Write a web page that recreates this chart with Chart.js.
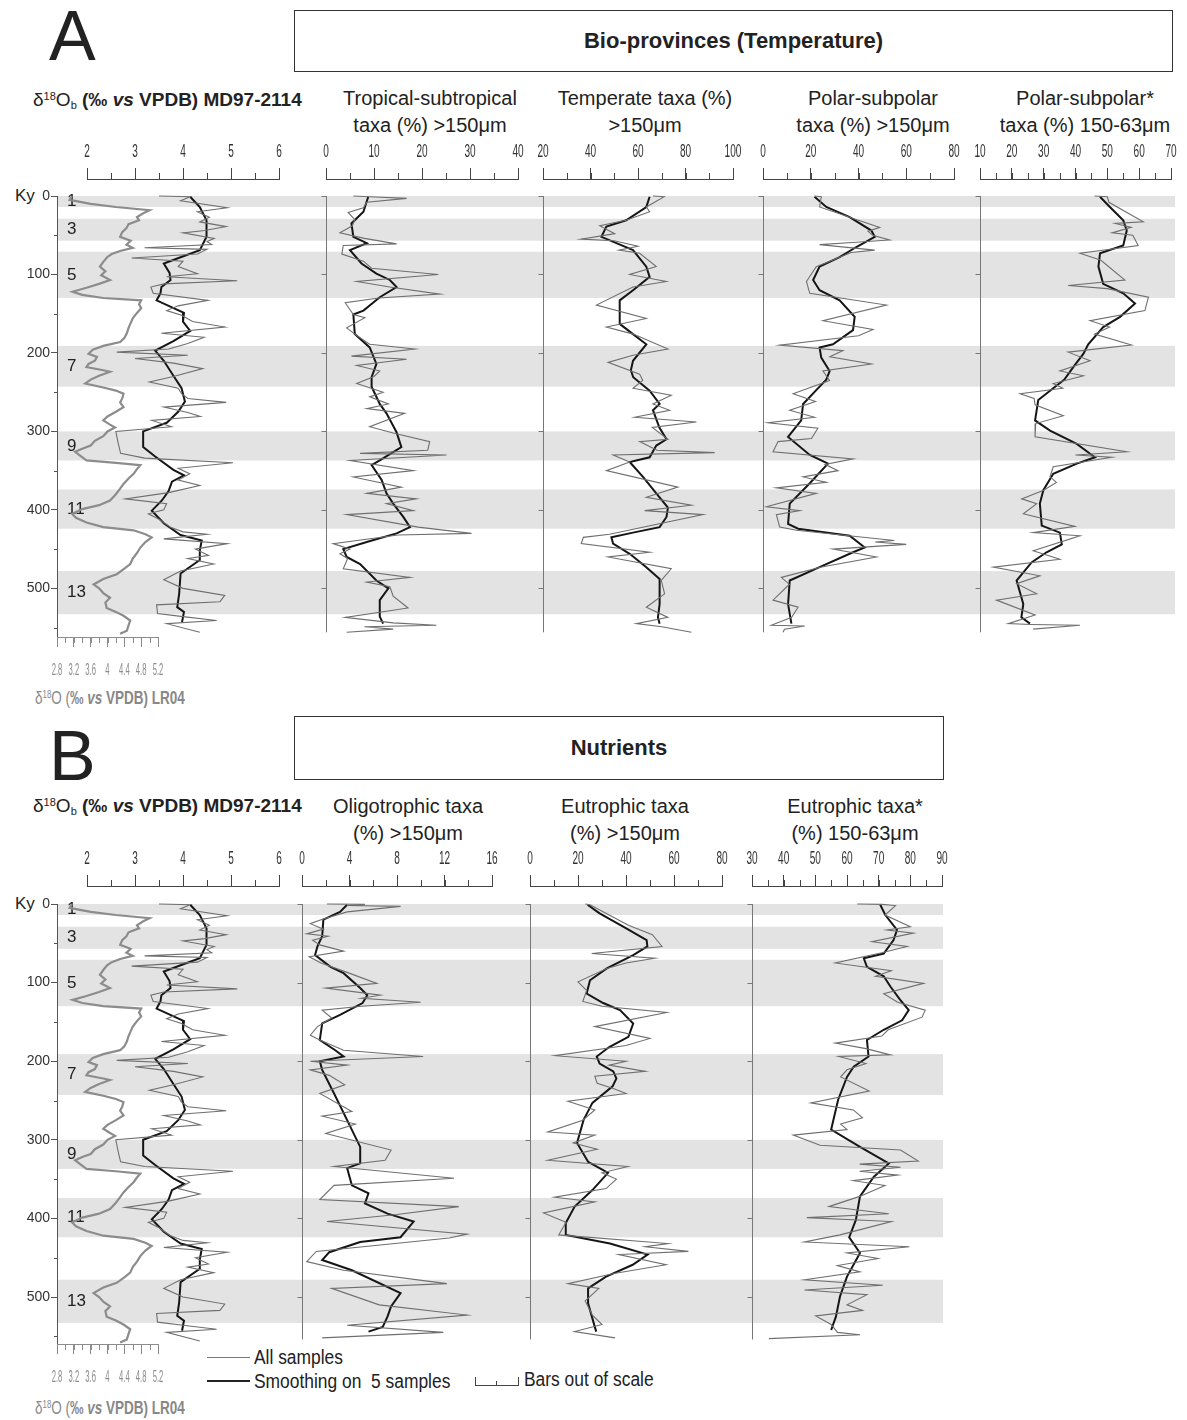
<!DOCTYPE html>
<html>
<head>
<meta charset="utf-8">
<script src="https://cdn.jsdelivr.net/npm/chart.js@4.4.1/dist/chart.umd.min.js"></script>
<style>
body { margin: 0; background: #fff; }
#page { position: relative; width: 1187px; height: 1420px; overflow: hidden; font-family: 'Liberation Sans', Arial, sans-serif; color: #222; }
#page canvas { position: absolute; }
.t { position: absolute; white-space: nowrap; line-height: 24px; }
.hd { position: absolute; white-space: nowrap; font-size: 20px; line-height: 24px; transform: translateX(-50%); }
.cond { transform-origin: 0 50%; }
.box { position: absolute; border: 1.5px solid #333; display: flex; align-items: center; justify-content: center; font-weight: bold; font-size: 22px; }
.big { position: absolute; font-size: 70px; line-height: 70px; }
.sup { font-size: 0.58em; position: relative; top: -0.55em; }
.sub { font-size: 0.58em; position: relative; top: 0.25em; }
.ln { position: absolute; height: 0; }
</style>
</head>
<body>
<div id="page">
  <div class="big" style="left:49px;top:1px;">A</div>
  <div class="box" style="left:294px;top:10px;width:877px;height:60px;">Bio-provinces (Temperature)</div>
  <div class="t" style="left:33px;top:88px;font-size:19px;">δ<span class="sup">18</span>O<span class="sub">b</span> <b>(‰ <i>vs</i> VPDB) MD97-2114</b></div>
  <div class="hd" style="left:430px;top:86px;">Tropical-subtropical</div>
  <div class="hd" style="left:430px;top:113px;">taxa (%) &gt;150μm</div>
  <div class="hd" style="left:645px;top:86px;">Temperate taxa (%)</div>
  <div class="hd" style="left:645px;top:113px;">&gt;150μm</div>
  <div class="hd" style="left:873px;top:86px;">Polar-subpolar</div>
  <div class="hd" style="left:873px;top:113px;">taxa (%) &gt;150μm</div>
  <div class="hd" style="left:1085px;top:86px;">Polar-subpolar*</div>
  <div class="hd" style="left:1085px;top:113px;">taxa (%) 150-63μm</div>
  <div class="t" style="left:15px;top:184px;font-size:17px;">Ky</div>
  <div class="t cond" style="left:35px;top:686px;font-size:18px;color:#888;transform:scaleX(0.75);">δ<span class="sup">18</span>O (<b>‰ <i>vs</i> VPDB) LR04</b></div>

  <div class="big" style="left:49px;top:721px;">B</div>
  <div class="box" style="left:294px;top:716px;width:648px;height:62px;">Nutrients</div>
  <div class="t" style="left:33px;top:794px;font-size:19px;">δ<span class="sup">18</span>O<span class="sub">b</span> <b>(‰ <i>vs</i> VPDB) MD97-2114</b></div>
  <div class="hd" style="left:408px;top:794px;">Oligotrophic taxa</div>
  <div class="hd" style="left:408px;top:821px;">(%) &gt;150μm</div>
  <div class="hd" style="left:625px;top:794px;">Eutrophic taxa</div>
  <div class="hd" style="left:625px;top:821px;">(%) &gt;150μm</div>
  <div class="hd" style="left:855px;top:794px;">Eutrophic taxa*</div>
  <div class="hd" style="left:855px;top:821px;">(%) 150-63μm</div>
  <div class="t" style="left:15px;top:892px;font-size:17px;">Ky</div>
  <div class="t cond" style="left:35px;top:1396px;font-size:18px;color:#888;transform:scaleX(0.75);">δ<span class="sup">18</span>O (<b>‰ <i>vs</i> VPDB) LR04</b></div>

  <div class="ln" style="left:207px;top:1357px;width:43px;border-top:1px solid #777;"></div>
  <div class="t cond" style="left:254px;top:1345px;font-size:20px;transform:scaleX(0.87);">All samples</div>
  <div class="ln" style="left:207px;top:1380px;width:43px;border-top:2px solid #222;"></div>
  <div class="t cond" style="left:254px;top:1369px;font-size:20px;transform:scaleX(0.87);">Smoothing on &nbsp;5 samples</div>
  <div style="position:absolute;left:475px;top:1377px;width:42px;height:8px;border:1.5px solid #444;border-top:none;"></div>
  <div style="position:absolute;left:496px;top:1381px;width:0;height:5px;border-left:1.5px solid #444;"></div>
  <div class="t cond" style="left:524px;top:1367px;font-size:20px;transform:scaleX(0.87);">Bars out of scale</div>
</div>

<script>
// Marine isotope stages (odd = warm), ky
const misBands = [[0, 14], [29, 57], [71, 130], [191, 243], [300, 337], [374, 424], [478, 533]];
const misLabels = ['1', '3', '5', '7', '9', '11', '13'];
const kyTicks = [0, 100, 200, 300, 400, 500];

// [age ky, value]
const md97Raw = [[0,3.5],[1,4.15],[6,3.95],[15,4.92],[20,4.3],[27,4.55],[33,4.35],[39,4.9],[44,4.45],[47,4.0],
  [54,4.65],[58,4.5],[62,4.6],[66,3.2],[68,4.5],[74,4.3],[79,2.93],[83,4.0],[90,3.9],[99,4.3],
  [103,3.66],[108,5.13],[112,3.6],[116,3.33],[124,3.38],[133,4.52],[140,3.9],[146,3.66],[152,3.97],[160,4.2],
  [167,4.87],[175,3.55],[180,4.44],[188,4.1],[195,3.7],[199,2.62],[203,4.1],[207,3.0],[213,3.8],[220,4.41],
  [230,3.8],[237,3.3],[245,3.9],[252,3.97],[258,4.1],[263,4.9],[269,3.6],[276,4.1],[281,4.36],[286,3.35],
  [294,3.76],[300,2.6],[315,2.65],[328,2.7],[334,3.2],[340,5.04],[347,3.9],[354,4.14],[362,3.9],[369,4.35],
  [378,3.7],[386,2.8],[392,3.66],[400,3.6],[405,3.28],[412,3.5],[422,3.74],[428,4.0],[431,4.5],[437,3.6],
  [443,4.92],[450,4.26],[458,4.53],[462,4.1],[469,4.64],[478,3.95],[489,3.6],[500,4.0],[509,4.87],[517,4.77],
  [521,3.45],[532,3.47],[536,4.0],[541,4.7],[545,3.66],[556,4.35]];
const md97Smooth = [[1,4.15],[14,4.35],[31,4.49],[52,4.49],[69,4.35],[78,3.95],[86,3.6],[98,3.72],[107,3.74],[116,3.55],
  [124,3.53],[133,3.45],[149,4.02],[160,4.0],[172,4.15],[185,3.8],[197,3.42],[210,3.6],[229,3.8],[245,3.97],
  [262,4.04],[275,3.9],[289,3.66],[300,3.17],[320,3.17],[332,3.42],[349,3.8],[356,4.02],[364,3.77],[376,3.7],
  [388,3.56],[401,3.35],[417,3.6],[432,3.95],[439,4.39],[452,4.35],[464,4.35],[481,3.95],[507,3.92],[524,3.88],
  [530,4.02],[543,3.98]];
const lr04 = [[0,3.15],[5,3.1],[10,3.6],[14,4.2],[18,5.0],[22,4.85],[27,4.7],[31,4.75],[36,4.5],[41,4.45],
  [46,4.35],[52,4.3],[57,4.55],[62,4.45],[66,4.6],[70,4.3],[74,4.1],[78,3.99],[84,3.9],[90,3.82],
  [96,3.95],[101,3.85],[107,4.06],[112,3.8],[117,3.5],[122,3.17],[126,3.4],[130,3.9],[133,4.8],[138,4.75],
  [143,4.8],[149,4.7],[156,4.6],[162,4.55],[168,4.5],[175,4.46],[181,4.4],[186,4.3],[191,3.9],[196,3.65],
  [201,3.55],[205,3.75],[210,3.7],[214,3.55],[218,3.5],[222,3.9],[224,4.06],[229,3.8],[234,3.6],[239,3.47],
  [244,3.9],[248,4.2],[252,4.38],[258,4.35],[263,4.3],[269,4.38],[275,4.2],[281,4.0],[286,3.9],[291,4.05],
  [295,4.18],[300,4.0],[306,3.9],[312,3.7],[318,3.6],[322,3.4],[326,3.23],[331,3.35],[337,3.5],[340,4.2],
  [343,4.78],[348,4.7],[354,4.62],[360,4.5],[367,4.38],[373,4.3],[380,4.2],[388,4.06],[394,3.8],[399,3.4],
  [405,3.16],[410,3.25],[416,3.5],[422,3.9],[426,4.62],[431,4.9],[435,5.05],[441,4.9],[448,4.78],[455,4.7],
  [462,4.6],[469,4.54],[475,4.4],[482,4.22],[488,3.9],[495,3.67],[500,3.8],[506,3.9],[512,4.06],[518,3.95],
  [525,3.98],[530,4.2],[535,4.38],[541,4.54],[547,4.5],[554,4.46],[558,4.3]];

const tropRaw = [[0,5.7],[1,9.1],[3,16.8],[8,8.5],[15,7.8],[21,4.6],[30,6.0],[38,5.5],[47,2.9],[54,8.0],
  [61,14.7],[63,3.6],[74,3.3],[83,7.8],[92,9.5],[100,23.4],[109,6.4],[116,13.3],[125,23.7],[130,11],
  [136,4.0],[151,5.7],[155,8.1],[168,4.3],[176,6],[189,9.1],[195,18.5],[204,5.3],[208,16.8],[216,6.4],
  [223,11.2],[230,10],[239,6.4],[250,11.9],[256,9.1],[265,13.0],[271,8.5],[277,16.4],[294,9.1],[302,14],
  [313,21.6],[324,21.2],[328,7.1],[330,25.1],[337,5.0],[350,18.2],[358,5.7],[371,15.7],[379,8.5],[386,18.8],
  [392,12.6],[401,18.2],[406,4.3],[422,19.2],[430,30.3],[432,15],[443,1.5],[450,5.0],[456,2.9],[462,4.5],
  [475,3.6],[486,17.5],[492,8.5],[498,13.3],[510,14],[525,17.1],[537,4.0],[544,14.0],[547,23],[549,8],
  [552,14],[556,4.3]];
const tropSmooth = [[1,8.8],[20,7.8],[35,5.3],[52,5.7],[60,8.5],[69,5.0],[86,7.4],[99,10.5],[107,13.3],[116,14.7],
  [129,11.2],[146,7.8],[151,5.7],[176,6.0],[193,9.1],[214,10.5],[231,9.5],[243,9.5],[265,11.2],[277,12.6],
  [301,14.7],[320,15.7],[337,11.2],[343,9.5],[362,11.6],[379,12.6],[392,14.0],[409,16.1],[422,17.5],[430,14.7],
  [441,8.5],[450,3.6],[460,4.3],[469,7.1],[490,10.5],[500,13.0],[515,11.2],[536,11.2],[545,11.9]];

const tempRaw = [[0,66.3],[1,71],[14,63.5],[20,64.9],[31,55],[38,43.9],[48,50.2],[55,36.1],[57,50],[64,60],
  [69,52],[73,60.7],[90,67.7],[100,56.5],[109,71.9],[116,57.9],[139,42.5],[156,63.5],[167,46.7],[176,58],
  [195,72.6],[203,57.9],[212,47.4],[227,60.7],[235,62],[245,57.9],[254,74],[265,66.3],[273,73.3],[282,58.6],
  [288,84.6],[295,66],[310,72.6],[313,60.7],[324,68],[327,92.3],[330,49.5],[339,56.5],[350,46.7],[371,76.8],
  [384,63.5],[394,82.5],[401,62.8],[406,87.4],[431,48],[435,37],[443,36.1],[454,64.9],[460,47.4],[475,74],
  [490,69.8],[507,71.2],[524,63.5],[537,72.6],[545,59.3],[549,70],[556,82.5]];
const tempSmooth = [[1,64.9],[14,63.5],[31,55],[39,46.7],[52,44.6],[60,50.9],[69,57.9],[90,63.5],[103,64.9],[120,57.9],
  [133,52.3],[163,52.3],[176,57.9],[189,63.5],[210,57.9],[222,57],[231,58],[248,64.9],[265,69.1],[273,66.3],
  [295,69],[310,72],[318,67.7],[333,64.9],[339,56.5],[358,62.1],[379,67.7],[397,72.6],[409,72],[422,69.1],
  [429,57.9],[435,48.8],[443,49.5],[456,56.5],[473,63.5],[488,69.1],[520,69.1],[537,68.4],[545,69.1]];

const polarRaw = [[0,21.6],[1,24.4],[14,23.7],[27,36.3],[40,48.9],[45,44],[50,46],[56,53],[59,39],[62,23.7],
  [69,46.8],[72,37],[90,22.3],[109,18.2],[124,19.6],[139,51.7],[159,25.1],[170,46.1],[178,40],[190,7.0],
  [197,33.5],[205,28],[214,45.4],[223,25.1],[235,27.9],[252,12.6],[262,22],[273,11.2],[282,21.6],[289,2.1],
  [296,23],[309,20.3],[313,6.3],[326,4.2],[335,37.7],[342,26],[350,31.4],[358,16.8],[365,26.5],[372,5.6],
  [379,22.3],[396,1.4],[401,15.4],[406,5.6],[422,7.0],[426,14.0],[439,55],[441,47],[444,60],[450,29.3],
  [460,47.5],[473,24],[486,7.7],[495,11],[515,4.2],[524,14.7],[537,12],[547,3.5],[548,17.5],[552,9],[556,8.4]];
const polarSmooth = [[1,21.6],[14,26.5],[27,36.3],[44,45.4],[52,46.8],[65,39.1],[78,32.1],[90,23.7],[107,21.0],[120,23.7],
  [133,32.1],[154,38.4],[171,37.7],[189,29.3],[193,23.7],[206,24.4],[223,27.9],[234,26.5],[243,23.7],[265,16.8],
  [286,16.0],[307,10.5],[330,19.6],[341,27.2],[366,19.6],[392,11.2],[418,10.5],[424,14.7],[433,36.3],[448,42.6],
  [454,37.7],[473,23.7],[490,11.2],[520,10.5],[545,11.9]];

const polarSmRaw = [[0,46],[1,50],[8,50.5],[33,61.3],[35,52.5],[40,57.5],[47,51.5],[50,58],[63,59.7],[73,41.4],
  [82,48],[107,55.5],[114,37.7],[118,50],[129,62.9],[146,61.8],[159,44.6],[167,50.7],[176,46],[190,57.6],
  [199,37.7],[210,44.6],[223,35.1],[229,42.5],[239,33],[245,36],[252,22.6],[258,27],[266,27.3],[280,36.2],
  [290,27.5],[307,27.3],[326,56.1],[330,40],[333,51.4],[345,33],[358,32],[365,34],[375,30],[386,23.1],
  [392,27.8],[405,23.6],[421,39.8],[429,26.7],[433,41.4],[452,26.7],[463,35.1],[473,14.2],[484,28.8],[494,21.5],
  [507,27.8],[515,15.2],[534,27.3],[545,18.9],[546,26],[547,41.4],[552,26.7]];
const polarSmSmooth = [[1,47.7],[14,50.8],[31,55],[44,56.1],[63,55],[73,47.7],[90,47.2],[112,48.7],[124,55],[137,58.7],
  [154,54],[167,48.7],[189,44],[201,42.5],[218,39.3],[234,36.5],[243,33.6],[260,28.3],[286,27.3],[299,32],
  [316,40.4],[333,46.1],[341,40.4],[354,33],[375,29.9],[392,28.8],[420,29.4],[429,35.1],[444,35.7],[454,30.9],
  [467,26.2],[490,21.5],[520,23.6],[537,23],[545,25.7]];

const oligoRaw = [[0,2.1],[0.5,5.3],[2,3.8],[3,8.3],[10,3.8],[20,1.6],[25,0.7],[32,1.8],[38,0.4],[41,2.2],
  [46,0.9],[52,1.5],[60,3.5],[67,0.6],[75,1.6],[87,3.8],[101,6.3],[107,2.0],[116,6.6],[120,5],
  [125,10.0],[130,5],[135,1.7],[145,2.5],[156,1.3],[167,0.7],[173,1.5],[186,3.5],[194,10.2],[200,0.7],
  [205,3.8],[211,0.7],[218,2.3],[230,3.6],[241,1.5],[264,4.2],[270,1.7],[280,4.5],[292,2],[313,7.5],
  [326,7.0],[334,2.7],[349,12.8],[358,2.7],[376,1.5],[385,13.2],[395,8],[404,2.1],[420,13.9],[425,12.4],
  [442,1.2],[455,0.4],[466,3.5],[483,12.2],[489,2.5],[510,6.5],[523,13.9],[536,3.8],[545,11.9],[552,1.7]];
const oligoSmooth = [[1,3.8],[10,3.2],[20,1.8],[41,1.7],[54,1.3],[65,1.1],[80,2.4],[88,3.5],[107,4.9],[116,5.5],
  [126,5.1],[141,3.2],[152,1.7],[173,1.5],[186,2.8],[194,3.5],[200,1.5],[211,1.7],[241,2.7],[275,3.8],
  [309,4.9],[330,4.9],[336,3.8],[358,4.2],[368,5.6],[381,5.3],[394,7.2],[404,9.4],[424,8.3],[430,4.9],
  [443,2.3],[453,1.7],[466,4.2],[495,8.3],[512,7.5],[525,7.2],[538,6.8],[544,5.6]];

const eutroRaw = [[0,23],[1,25],[27,41],[39,51],[54,55],[63,25.7],[69,52],[75,40],[82,32],[99,20],
  [110,23.6],[124,22],[130,30],[138,57],[156,27],[171,50],[180,40],[193,10.4],[200,40],[205,33],
  [213,48],[219,27],[228,28],[235,35],[241,40],[251,15.8],[262,27],[275,22],[290,7.4],[294,27],
  [304,18],[312,28],[326,7.4],[334,40.8],[342,30],[350,36],[362,31.7],[373,10.2],[379,27],[393,5.6],
  [405,15],[421,12],[432,57.5],[436,48],[442,66],[446,37],[459,56.7],[470,35],[483,15.8],[489,28.7],
  [505,23],[523,26],[535,30],[544,18.6],[552,35.4]];
const eutroSmooth = [[1,24],[12,29],[29,39],[46,48.6],[54,48.9],[65,43],[82,32],[97,25],[114,23.6],[126,30.5],
  [135,37.5],[152,43],[169,41],[182,33],[194,27.8],[203,29],[213,34.7],[222,36],[232,34.4],[253,26],
  [275,22.3],[304,19.6],[328,24.2],[342,32.5],[364,26],[385,18.6],[406,14.9],[421,14.9],[432,33.3],[446,49],
  [459,42.8],[474,31.7],[489,24.2],[508,24.2],[538,27],[544,27.6]];

const eutroSmRaw = [[0,63.2],[0.5,71],[2,75.3],[14,72],[29,80],[33,72.6],[37,81],[48,67.9],[54,79],[62,71],
  [75,56.3],[85,74],[92,69],[101,84.2],[114,71.6],[125,76],[135,84.7],[144,83.7],[160,73],[168,71],
  [177,56.3],[184,66],[192,73.7],[194,57.4],[203,66],[211,60],[220,58],[238,67],[253,48.6],[262,62],
  [272,64.9],[280,58],[287,60],[294,43],[307,51.5],[313,76.9],[327,82.5],[331,64],[335,76.9],[340,64],
  [345,76],[352,62],[358,72],[372,64],[385,54.3],[394,73.2],[399,47.3],[404,74],[421,57.8],[430,46.6],
  [436,79.7],[444,60],[451,69.8],[460,57],[468,64.1],[478,46.6],[485,71.3],[491,46.6],[497,66.3],[510,60],
  [517,64.9],[524,50.1],[535,55],[545,57],[548,64.1],[553,35.3]];
const eutroSmSmooth = [[1,70.5],[14,72.1],[33,75.8],[46,74.7],[63,71.6],[69,65.3],[80,66.3],[92,71.6],[105,73.7],[122,76.8],
  [135,79.5],[148,77.4],[160,71.6],[173,66.3],[194,66.8],[207,62.1],[220,60],[249,57.2],[287,55],[309,64.1],
  [330,73.2],[347,68.5],[372,64.1],[402,62.8],[424,60.7],[444,64.1],[474,60],[499,57.8],[525,56.5],[542,55]];

// pixel frame of each panel: y of 0 ky, px per ky, top axis line, bottom axis line, right end of bands
const panelA = { y0: 196, k: 0.7847, axisY: 179, bottom: 637, right: 1175, vEnd: 556 };
const panelB = { y0: 904, k: 0.786, axisY: 886, bottom: 1344, right: 943, vEnd: 554 };

const styles = {
  raw: { borderColor: '#6f6f6f', borderWidth: 1.1 },
  smooth: { borderColor: '#151515', borderWidth: 2 },
  lr04: { borderColor: '#8c8c8c', borderWidth: 2.2 }
};

const toPoints = (rows) => rows.map(([age, v]) => ({ x: v, y: age }));
const fmt = (v) => String(+v.toFixed(1));

function addCanvas(left, top, w, h) {
  const cv = document.createElement('canvas');
  cv.width = w; cv.height = h;
  cv.style.left = left + 'px';
  cv.style.top = top + 'px';
  cv.style.width = w + 'px';
  cv.style.height = h + 'px';
  document.getElementById('page').appendChild(cv);
  return cv;
}

function makeBackground(p) {
  const pad = 14;
  const cv = addCanvas(0, p.y0 - pad, 1187, p.bottom - p.y0 + 2 * pad);
  const bands = {
    id: 'bands',
    beforeDraw(chart) {
      const { ctx, chartArea } = chart;
      const y = chart.scales.y;
      ctx.save();
      ctx.fillStyle = '#e3e3e3';
      misBands.forEach(([a, b]) => {
        const y1 = y.getPixelForValue(a), y2 = y.getPixelForValue(b);
        ctx.fillRect(chartArea.left, y1, chartArea.right - chartArea.left, y2 - y1);
      });
      ctx.fillStyle = '#222';
      ctx.font = "17px 'Liberation Sans', Arial, sans-serif";
      ctx.textBaseline = 'middle';
      misBands.forEach(([a, b], i) => {
        ctx.fillText(misLabels[i], chartArea.left + 10, y.getPixelForValue((a + b) / 2));
      });
      ctx.restore();
    },
    afterDraw(chart) {
      const { ctx, chartArea } = chart;
      const y = chart.scales.y;
      ctx.save();
      ctx.strokeStyle = '#555';
      ctx.beginPath();
      for (let v = 50; v < 560; v += 100) {
        const py = Math.round(y.getPixelForValue(v)) + 0.5;
        ctx.moveTo(chartArea.left, py);
        ctx.lineTo(chartArea.left - 3, py);
      }
      ctx.stroke();
      ctx.restore();
    }
  };
  new Chart(cv, {
    type: 'scatter',
    data: { datasets: [] },
    options: {
      responsive: false, animation: false, events: [],
      layout: { padding: { left: 0, right: 1187 - p.right, top: pad, bottom: pad } },
      plugins: { legend: { display: false }, tooltip: { enabled: false } },
      scales: {
        x: { display: false, min: 0, max: 1 },
        y: {
          reverse: true, min: 0, max: (p.bottom - p.y0) / p.k,
          afterFit: (s) => { s.width = 57; },
          afterBuildTicks: (s) => { s.ticks = kyTicks.map(v => ({ value: v })); },
          ticks: { font: { family: "'Liberation Sans', Arial, sans-serif", size: 14 }, color: '#333', padding: 1 },
          grid: { drawOnChartArea: false, tickLength: 6, color: '#555' },
          border: { color: '#555' }
        }
      }
    },
    plugins: [bands]
  });
}

function makeColumn(p, c) {
  const PAD = 22, AXH = 48;
  const left = c.x0 - PAD, width = c.x1 - c.x0 + 2 * PAD;
  let top, height, ymin, ymax;
  if (c.pos === 'top') {
    top = p.axisY - AXH;
    const bot = Math.round(p.y0 + 575 * p.k);
    height = bot - top;
    ymin = (p.axisY - p.y0) / p.k;
    ymax = (bot - p.y0) / p.k;
  } else {
    top = p.y0 - 40;
    height = p.bottom + AXH - top;
    ymin = -40 / p.k;
    ymax = (p.bottom - p.y0) / p.k;
  }
  const col = c.color || '#444';
  const decor = {
    id: 'decor',
    beforeDatasetsDraw(chart) {
      const { ctx, chartArea } = chart;
      const x = chart.scales.x, y = chart.scales.y;
      ctx.save();
      ctx.strokeStyle = col;
      ctx.lineWidth = 1;
      const ay = c.pos === 'top' ? chartArea.top : chartArea.bottom;
      const dir = c.pos === 'top' ? -1 : 1;
      ctx.beginPath();
      for (let v = c.min; v <= c.max + 1e-9; v += c.minor) {
        const px = Math.round(x.getPixelForValue(v)) + 0.5;
        ctx.moveTo(px, ay);
        ctx.lineTo(px, ay + dir * 6);
      }
      ctx.stroke();
      if (c.vline) {
        const px = Math.round(x.getPixelForValue(c.min)) + 0.5;
        ctx.strokeStyle = '#777';
        ctx.beginPath();
        ctx.moveTo(px, y.getPixelForValue(0));
        ctx.lineTo(px, y.getPixelForValue(p.vEnd));
        kyTicks.forEach(t => {
          const py = Math.round(y.getPixelForValue(t)) + 0.5;
          ctx.moveTo(px, py);
          ctx.lineTo(px - 5, py);
        });
        ctx.stroke();
      }
      // condensed tick labels, placed with the axis' own tick positions
      ctx.fillStyle = c.labelColor || '#333';
      ctx.font = (c.pos === 'top' ? 18 : 17) + "px 'Liberation Sans', Arial, sans-serif";
      ctx.textAlign = 'center';
      ctx.textBaseline = 'middle';
      const ly = c.pos === 'top' ? chartArea.top - 27 : chartArea.bottom + 33;
      const sx = c.pos === 'top' ? 0.56 : 0.45;
      x.ticks.forEach(t => {
        ctx.save();
        ctx.translate(x.getPixelForValue(t.value), ly);
        ctx.scale(sx, 1);
        ctx.fillText(fmt(t.value), 0, 0);
        ctx.restore();
      });
      ctx.restore();
    }
  };
  const cv = addCanvas(left, top, width, height);
  new Chart(cv, {
    type: 'scatter',
    data: {
      datasets: c.series.map(s => ({
        data: toPoints(s.rows),
        showLine: true, pointRadius: 0, tension: 0, fill: false, clip: false,
        ...styles[s.kind]
      }))
    },
    options: {
      responsive: false, animation: false, events: [],
      layout: { padding: { left: PAD, right: PAD, top: 0, bottom: 0 } },
      plugins: { legend: { display: false }, tooltip: { enabled: false } },
      scales: {
        x: {
          position: c.pos, min: c.min, max: c.max,
          afterFit: (s) => { s.height = AXH; },
          ticks: { stepSize: c.step, autoSkip: false, maxRotation: 0, display: false },
          grid: { drawOnChartArea: false, tickLength: c.pos === 'top' ? 11 : 10, color: col },
          border: { color: col }
        },
        y: { display: false, reverse: true, min: ymin, max: ymax }
      }
    },
    plugins: [decor]
  });
}

makeBackground(panelA);
makeBackground(panelB);

[panelA, panelB].forEach(p => {
  makeColumn(p, { x0: 57, x1: 158, min: 2.8, max: 5.2, step: 0.4, minor: 0.2, pos: 'bottom',
    color: '#8c8c8c', labelColor: '#8c8c8c', series: [{ rows: lr04, kind: 'lr04' }] });
  makeColumn(p, { x0: 87, x1: 279, min: 2, max: 6, step: 1, minor: 0.5, pos: 'top',
    series: [{ rows: md97Raw, kind: 'raw' }, { rows: md97Smooth, kind: 'smooth' }] });
});

makeColumn(panelA, { x0: 326, x1: 518, min: 0, max: 40, step: 10, minor: 5, pos: 'top', vline: true,
  series: [{ rows: tropRaw, kind: 'raw' }, { rows: tropSmooth, kind: 'smooth' }] });
makeColumn(panelA, { x0: 543, x1: 733, min: 20, max: 100, step: 20, minor: 10, pos: 'top', vline: true,
  series: [{ rows: tempRaw, kind: 'raw' }, { rows: tempSmooth, kind: 'smooth' }] });
makeColumn(panelA, { x0: 763, x1: 954, min: 0, max: 80, step: 20, minor: 10, pos: 'top', vline: true,
  series: [{ rows: polarRaw, kind: 'raw' }, { rows: polarSmooth, kind: 'smooth' }] });
makeColumn(panelA, { x0: 980, x1: 1171, min: 10, max: 70, step: 10, minor: 5, pos: 'top', vline: true,
  series: [{ rows: polarSmRaw, kind: 'raw' }, { rows: polarSmSmooth, kind: 'smooth' }] });

makeColumn(panelB, { x0: 302, x1: 492, min: 0, max: 16, step: 4, minor: 2, pos: 'top', vline: true,
  series: [{ rows: oligoRaw, kind: 'raw' }, { rows: oligoSmooth, kind: 'smooth' }] });
makeColumn(panelB, { x0: 530, x1: 722, min: 0, max: 80, step: 20, minor: 10, pos: 'top', vline: true,
  series: [{ rows: eutroRaw, kind: 'raw' }, { rows: eutroSmooth, kind: 'smooth' }] });
makeColumn(panelB, { x0: 752, x1: 942, min: 30, max: 90, step: 10, minor: 5, pos: 'top', vline: true,
  series: [{ rows: eutroSmRaw, kind: 'raw' }, { rows: eutroSmSmooth, kind: 'smooth' }] });
</script>
</body>
</html>
